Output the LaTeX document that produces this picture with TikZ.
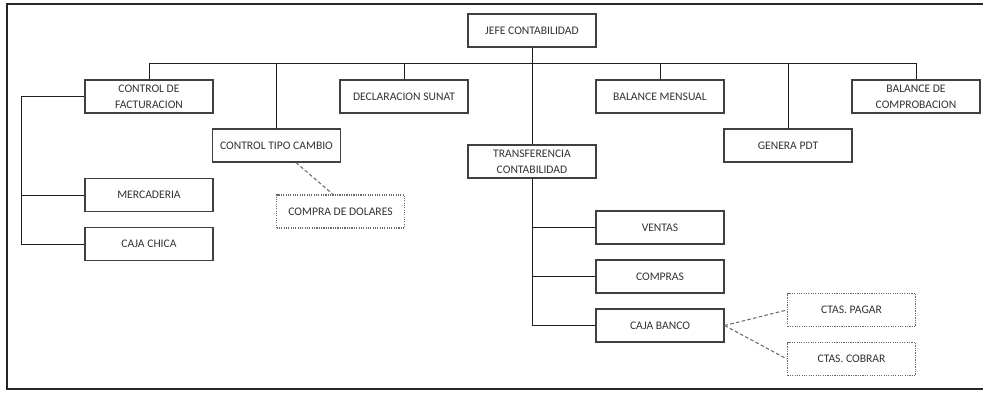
\documentclass[tikz,border=0pt]{standalone}
\usepackage{fontspec}
\setmainfont{Carlito}
\usetikzlibrary{positioning}
\definecolor{boxline}{HTML}{404040}
\definecolor{linkline}{HTML}{1E1E1E}
\definecolor{dashgray}{HTML}{6A6A6A}
\tikzset{
  box/.style={draw=boxline, line width=1pt, fill=white,
    minimum width=3.84cm, minimum height=0.99cm, inner sep=0pt,
    align=center, text=black!80,
    font=\fontsize{9.9}{13.6}\selectfont},
  dotbox/.style={box, draw=dashgray, dash pattern=on 1pt off 1pt},
  link/.style={draw=linkline, line width=0.8pt},
  dashlink/.style={draw=dashgray, line width=0.9pt, dash pattern=on 3pt off 2pt},
  frame/.style={draw=black!85, line width=1.5pt}
}
\begin{document}
\begin{tikzpicture}[x=0.03cm, y=-0.03cm]
  \useasboundingbox (0,0) rectangle (983,392);
  % outer frame (right side runs off the page)
  \draw[frame] (990,4) -- (7,4) -- (7,389) -- (990,389);

  % top level
  \node[box] (jefe) at (532,30.5) {JEFE CONTABILIDAD};

  % second level
  \node[box] (cf)  at (149,96.5)  {CONTROL DE\\FACTURACION};
  \node[box] (ctc) at (276.5,145.5) {CONTROL TIPO CAMBIO};
  \node[box] (ds)  at (404,96.5)  {DECLARACION SUNAT};
  \node[box] (tc)  at (532,161.5) {TRANSFERENCIA\\CONTABILIDAD};
  \node[box] (bm)  at (660,96.5)  {BALANCE MENSUAL};
  \node[box] (gp)  at (788,145.5) {GENERA PDT};
  \node[box] (bc)  at (916,96.5)  {BALANCE DE\\COMPROBACION};

  % under control de facturacion
  \node[box] (merc) at (149,195) {MERCADERIA};
  \node[box] (cch)  at (149,244) {CAJA CHICA};

  % under control tipo cambio
  \node[dotbox] (cdd) at (340.5,211.5) {COMPRA DE DOLARES};

  % under transferencia contabilidad
  \node[box] (ven) at (660,227.5) {VENTAS};
  \node[box] (com) at (660,276.5) {COMPRAS};
  \node[box] (cb)  at (660,325.5) {CAJA BANCO};

  % under caja banco
  \node[dotbox] (cp) at (851.5,310) {CTAS. PAGAR};
  \node[dotbox] (cc) at (851.5,359) {CTAS. COBRAR};

  % main bar
  \coordinate (bar) at (532,63);
  \coordinate (spine) at (21,0);
  \draw[link] (jefe.south) -- (tc.north);
  \draw[link] (cf.north) -- (cf.north |- bar) -- (bc.north |- bar) -- (bc.north);
  \draw[link] (ctc.north) -- (ctc.north |- bar);
  \draw[link] (ds.north) -- (ds.north |- bar);
  \draw[link] (bm.north) -- (bm.north |- bar);
  \draw[link] (gp.north) -- (gp.north |- bar);

  % left spine
  \draw[link] (cf.west) -- (cf.west -| spine) -- (cch.west -| spine) -- (cch.west);
  \draw[link] (merc.west -| spine) -- (merc.west);

  % transferencia spine
  \draw[link] (tc.south) -- (tc.south |- cb.west) -- (cb.west);
  \draw[link] (tc.south |- ven.west) -- (ven.west);
  \draw[link] (tc.south |- com.west) -- (com.west);

  % dashed links
  \draw[dashlink] ([xshift=0.585cm]ctc.south) -- ([xshift=-0.225cm]cdd.north);
  \draw[dashlink] (cb.east) -- (cp.west);
  \draw[dashlink] (cb.east) -- (cc.west);
\end{tikzpicture}
\end{document}
